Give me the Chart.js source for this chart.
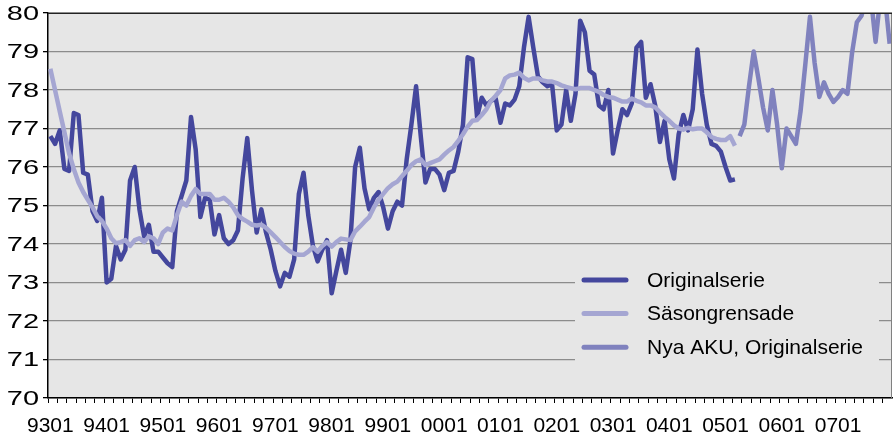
<!DOCTYPE html>
<html>
<head>
<meta charset="utf-8">
<script src="https://cdn.jsdelivr.net/npm/chart.js@4.4.1/dist/chart.umd.min.js"></script>
<style>
  html, body { margin: 0; padding: 0; background: #fff; }
  #wrap { width: 895px; height: 441px; }
</style>
</head>
<body>
<div id="wrap"><canvas id="aku"></canvas></div>
<script>
// months 9301 .. 0712
const firstYear = 1993;
const monthCount = 180;

// Originalserie 9301 - 0503
const origSeries = [
  76.8, 76.6, 76.95, 75.95, 75.9, 77.4, 77.35, 75.85, 75.8, 74.85, 74.6, 75.2,
  73.0, 73.1, 73.95, 73.6, 73.85, 75.65, 76.0, 74.9, 74.2, 74.5, 73.8, 73.8,
  73.65, 73.5, 73.4, 74.85, 75.25, 75.65, 77.3, 76.45, 74.7, 75.2, 75.15, 74.25,
  74.75, 74.15, 74.0, 74.1, 74.35, 75.7, 76.75, 75.4, 74.3, 74.9, 74.3, 73.85,
  73.3, 72.9, 73.25, 73.15, 73.6, 75.3, 75.85, 74.75, 73.95, 73.55, 73.85, 74.1,
  72.72, 73.3, 73.85, 73.25, 74.1, 76.0, 76.5, 75.45, 74.9, 75.2, 75.35, 74.95,
  74.4, 74.85, 75.1, 75.0, 76.2, 77.1, 78.1, 76.8, 75.6, 75.95, 75.95, 75.8,
  75.4, 75.85, 75.9, 76.4, 77.1, 78.85, 78.8, 77.3, 77.8, 77.6, 77.72, 77.77,
  77.15, 77.65, 77.6, 77.75, 78.1, 79.1, 79.9, 79.1, 78.35, 78.2, 78.1, 78.15,
  76.95, 77.1, 78.0, 77.2, 77.9, 79.8, 79.5, 78.5, 78.4, 77.6, 77.5, 78.0,
  76.35, 76.95, 77.5, 77.35, 77.65, 79.1, 79.25, 77.8, 78.15, 77.6, 76.65, 77.2,
  76.2, 75.7, 76.85, 77.35, 76.95, 77.5, 79.05, 77.9, 77.1, 76.6, 76.55, 76.4,
  76.0, 75.65, 75.68
];

// Säsongrensade 9301 - 0503
const saSeries = [
  78.55, 78.0, 77.45, 76.9, 76.35, 75.95, 75.6, 75.35, 75.15, 74.95, 74.72, 74.6,
  74.4, 74.15, 74.02, 74.05, 74.1, 73.95, 74.1, 74.15, 74.05, 74.2, 74.15, 74.0,
  74.3, 74.4, 74.35, 74.75, 75.1, 75.0, 75.25, 75.43, 75.3, 75.3, 75.3, 75.15,
  75.15, 75.2, 75.1, 74.95, 74.75, 74.65, 74.58, 74.5, 74.48, 74.5, 74.42, 74.3,
  74.18, 74.05, 73.92, 73.82, 73.75, 73.72, 73.72, 73.8, 73.92, 73.8, 73.95, 74.05,
  73.93, 74.05, 74.14, 74.12, 74.1, 74.33, 74.45, 74.58, 74.7, 74.95, 75.15, 75.3,
  75.45, 75.55, 75.62, 75.76, 75.9, 76.05, 76.15, 76.2, 76.05, 76.1, 76.15, 76.2,
  76.32, 76.43, 76.52, 76.68, 76.85, 77.05, 77.2, 77.22, 77.35, 77.5, 77.72, 77.85,
  78.0, 78.3, 78.38, 78.4, 78.45, 78.32, 78.25, 78.3, 78.3, 78.25, 78.22, 78.22,
  78.18, 78.12, 78.08, 78.05, 78.02, 78.05, 78.05, 78.05, 78.0, 77.95, 77.87, 77.82,
  77.8, 77.75, 77.7, 77.7, 77.78, 77.72, 77.68, 77.6, 77.6, 77.55, 77.42, 77.3,
  77.2, 77.08, 77.0, 76.97, 77.02, 76.98, 77.0, 77.0, 76.9, 76.78, 76.73, 76.7,
  76.7, 76.8, 76.55
];

// Nya AKU, Originalserie 0504 - 0712
const nyaSeries = [
  76.8, 77.1, 78.1, 79.0, 78.3, 77.55, 76.95, 78.0, 77.1, 75.97, 77.0,
  76.8, 76.6, 77.45, 78.65, 79.9, 78.7, 77.82, 78.2, 77.9, 77.69, 77.82,
  78.0, 77.9, 78.98, 79.76, 79.93, 80.4, 80.4, 79.25, 80.4, 80.4, 79.2
];

const yTicks = [70, 71, 72, 73, 74, 75, 76, 77, 78, 79, 80];

const labels = [];
for (let i = 0; i < monthCount; i++) {
  const yy = (firstYear + Math.floor(i / 12)) % 100;
  const mm = i % 12 + 1;
  labels.push(String(yy).padStart(2, '0') + String(mm).padStart(2, '0'));
}

function pad(values, before) {
  const out = new Array(before).fill(null).concat(values);
  while (out.length < monthCount) out.push(null);
  return out;
}

const FONT = "'Liberation Sans', Arial, sans-serif";

const plotBackground = {
  id: 'plotBackground',
  beforeDraw(chart) {
    const { ctx, chartArea: a } = chart;
    ctx.save();
    ctx.fillStyle = '#e6e6e6';
    ctx.fillRect(a.left, a.top, a.right - a.left, a.bottom - a.top);
    ctx.restore();
  },
  afterDraw(chart) {
    const { ctx, chartArea: a } = chart;
    ctx.save();
    ctx.strokeStyle = '#808080';
    ctx.lineWidth = 1;
    ctx.beginPath();
    ctx.moveTo(a.right - 0.5, a.top);
    ctx.lineTo(a.right - 0.5, a.bottom);
    ctx.stroke();
    ctx.strokeStyle = '#222';
    ctx.beginPath();
    ctx.moveTo(a.left, a.top + 0.5);
    ctx.lineTo(a.right, a.top + 0.5);
    ctx.stroke();

    // y tick labels, drawn wide like the original
    const ys = chart.scales.y;
    ctx.fillStyle = '#000';
    ctx.font = '21px ' + FONT;
    ctx.textAlign = 'right';
    ctx.textBaseline = 'middle';
    yTicks.forEach(v => {
      ctx.save();
      ctx.translate(39, ys.getPixelForValue(v) + 1);
      ctx.scale(1.38, 1);
      ctx.fillText(String(v), 0, 0);
      ctx.restore();
    });
    ctx.restore();
  }
};

const boxLegend = {
  id: 'boxLegend',
  afterDatasetsDraw(chart) {
    const { ctx } = chart;
    const x0 = 575, y0 = 258, w = 304, h = 110;
    ctx.save();
    ctx.fillStyle = '#e6e6e6';
    ctx.fillRect(x0, y0, w, h);
    ctx.font = '21px ' + FONT;
    ctx.textBaseline = 'middle';
    ctx.fillStyle = '#000';
    chart.data.datasets.forEach((ds, k) => {
      const y = 280 + k * 33.6;
      ctx.strokeStyle = ds.borderColor;
      ctx.lineWidth = 5;
      ctx.lineCap = 'round';
      ctx.beginPath();
      ctx.moveTo(584, y);
      ctx.lineTo(626, y);
      ctx.stroke();
      ctx.fillText(ds.label, 647, y + 1);
    });
    ctx.restore();
  }
};

new Chart(document.getElementById('aku'), {
  type: 'line',
  data: {
    labels: labels,
    datasets: [
      {
        label: 'Originalserie',
        data: pad(origSeries, 0),
        borderColor: '#44479d',
        borderWidth: 4.5,
        order: 2
      },
      {
        label: 'Säsongrensade',
        data: pad(saSeries, 0),
        borderColor: '#a5a6d2',
        borderWidth: 4.5,
        order: 1
      },
      {
        label: 'Nya AKU, Originalserie',
        data: pad(nyaSeries, origSeries.length),
        borderColor: '#8082be',
        borderWidth: 4.5,
        order: 3
      }
    ]
  },
  options: {
    responsive: true,
    maintainAspectRatio: false,
    animation: false,
    datasets: {
      line: {
        pointRadius: 0,
        tension: 0,
        spanGaps: false,
        borderJoinStyle: 'round',
        borderCapStyle: 'butt',
        clip: { left: 5, top: 0, right: 0, bottom: 0 }
      }
    },
    layout: { padding: { top: 13, right: 3, left: 0, bottom: 0 } },
    plugins: {
      legend: { display: false },
      tooltip: { enabled: false }
    },
    scales: {
      x: {
        type: 'category',
        offset: true,
        afterFit: (scale) => {
          scale.height = 43;
          scale.paddingLeft = 0;
          scale.paddingRight = 0;
        },
        grid: {
          offset: true,
          drawOnChartArea: false,
          drawTicks: true,
          tickLength: 5,
          tickWidth: 1,
          tickColor: (c) => (c.index % 2 === 0 ? '#000' : 'rgba(0,0,0,0)')
        },
        border: { display: true, color: '#000', width: 1.5 },
        ticks: {
          autoSkip: false,
          maxRotation: 0,
          minRotation: 0,
          padding: 11,
          color: '#000',
          font: { family: FONT, size: 21 },
          callback: (v, i) => (i % 12 === 0 ? labels[i] : '')
        }
      },
      y: {
        min: yTicks[0],
        max: yTicks[yTicks.length - 1],
        afterFit: (scale) => { scale.width = 48; },
        afterBuildTicks: (scale) => { scale.ticks = yTicks.map(v => ({ value: v })); },
        grid: {
          color: '#8c8c8c',
          lineWidth: 1.3,
          drawTicks: true,
          tickLength: 5,
          tickColor: '#000'
        },
        border: { display: true, color: '#000', width: 1.5 },
        ticks: { display: false }
      }
    }
  },
  plugins: [plotBackground, boxLegend]
});
</script>
</body>
</html>
